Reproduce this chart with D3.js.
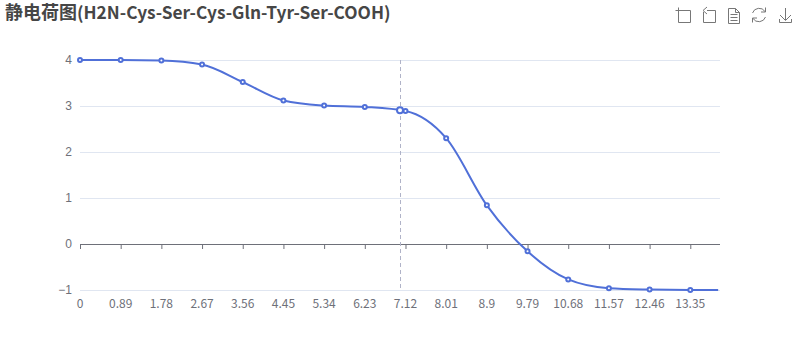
<!DOCTYPE html>
<html>
<head>
<meta charset="utf-8">
<script src="https://cdn.jsdelivr.net/npm/d3@7"></script>
<style>
    html, body { margin: 0; padding: 0; background: #fff; }
    svg { display: block; font-family: "Noto Sans CJK SC", "Noto Sans", sans-serif; }
</style>
</head>
<body>
<script>
const titleCjk = "静电荷图";
const titleLatin = "(H2N-Cys-Ser-Cys-Gln-Tyr-Ser-COOH)";
const xValues = [0, 0.89, 1.78, 2.67, 3.56, 4.45, 5.34, 6.23, 7.12, 8.01, 8.9, 9.79, 10.68, 11.57, 12.46, 13.35, 13.96];
const charges = [4, 4, 3.99, 3.9, 3.52, 3.12, 3.01, 2.98, 2.89, 2.3, 0.84, -0.16, -0.77, -0.96, -0.99, -1, -1];
const xTicks = [0, 0.89, 1.78, 2.67, 3.56, 4.45, 5.34, 6.23, 7.12, 8.01, 8.9, 9.79, 10.68, 11.57, 12.46, 13.35];
const yTicks = [-1, 0, 1, 2, 3, 4];
const hoverX = 7;
const hoverY = 2.91;

const width = 800, height = 360;
const marginTop = 60, marginRight = 80, marginBottom = 70, marginLeft = 80;
const color = "#5070d8", labelColor = "#6e7079", gridColor = "#e0e6f1";

const x = d3.scaleLinear([0, 14], [marginLeft, width - marginRight]);
const y = d3.scaleLinear([-1, 4], [height - marginBottom, marginTop]);

const svg = d3.select("body").append("svg")
    .attr("width", width)
    .attr("height", height)
    .attr("viewBox", [0, 0, width, height]);

const title = svg.append("text")
    .attr("x", 5)
    .attr("y", 19)
    .attr("fill", "#464646")
    .style("font-size", "18px")
    .style("font-weight", "bold");
title.append("tspan").text(titleCjk);
title.append("tspan").style("font-size", "17.3px").text(titleLatin);

// gridlines + y labels
svg.append("g")
    .attr("transform", `translate(${marginLeft},0)`)
    .call(d3.axisLeft(y).tickValues(yTicks).tickSize(0).tickPadding(8).tickFormat(d3.format("d")))
    .call(g => g.select(".domain").remove())
    .call(g => g.selectAll(".tick text")
        .attr("fill", labelColor)
        .style("font-size", "12px")
        .style("font-family", "inherit"))
    .call(g => g.selectAll(".tick line")
        .attr("x2", width - marginLeft - marginRight)
        .attr("stroke", d => d === 0 ? "none" : gridColor));

// x axis sits on y = 0, labels stay at the bottom
const xAxis = svg.append("g")
    .attr("transform", `translate(0,${y(0)})`)
    .call(d3.axisBottom(x).tickValues(xTicks).tickSize(5).tickFormat(d => d))
    .call(g => g.select(".domain")
        .attr("stroke", labelColor)
        .attr("d", `M${x.range()[0]},0.5H${x.range()[1]}`))
    .call(g => g.selectAll(".tick line").attr("stroke", labelColor));

xAxis.selectAll(".tick text").remove();

svg.append("g")
    .selectAll("text")
    .data(xTicks)
    .join("text")
    .attr("x", d => x(d))
    .attr("y", y(-1) + 18)
    .attr("text-anchor", "middle")
    .attr("fill", labelColor)
    .style("font-size", "12px")
    .text(d => d);

// crosshair
svg.append("line")
    .attr("x1", x(hoverX) + 0.5).attr("x2", x(hoverX) + 0.5)
    .attr("y1", marginTop).attr("y2", y(-1))
    .attr("stroke", "#b0b3c8")
    .attr("stroke-dasharray", "4,3");

const line = d3.line()
    .x((d, i) => x(xValues[i]))
    .y(d => y(d))
    .curve(d3.curveMonotoneX);

svg.append("path")
    .attr("d", line(charges))
    .attr("fill", "none")
    .attr("stroke", color)
    .attr("stroke-width", 2);

svg.append("g")
    .selectAll("circle")
    .data(charges.slice(0, -1))
    .join("circle")
    .attr("cx", (d, i) => x(xValues[i]))
    .attr("cy", d => y(d))
    .attr("r", 2)
    .attr("fill", "#fff")
    .attr("stroke", color)
    .attr("stroke-width", 2);

svg.append("circle")
    .attr("cx", x(hoverX))
    .attr("cy", y(hoverY))
    .attr("r", 3)
    .attr("fill", "#fff")
    .attr("stroke", color)
    .attr("stroke-width", 2);

// toolbox icons
const icons = [
    "M675.5,10.5H690.5V22.5H678.5V7.5",
    "M707,10.5H715.5V22.5H703.5V12M707,7L703,10.5L707,14",
    "M728.5,8.5H735.5L739.5,12.5V23.5H728.5ZM735.5,8.5V12.5H739.5M730.5,14.5H737.5M730.5,17.5H737.5M730.5,20.5H737.5",
    "M752.5,13A7,7 0 0 1 765,11.5M765.5,17A7,7 0 0 1 753,18.5M765.5,7.5V12H761M752.5,22.5V18H757",
    "M785.5,8V20M780,15L785.5,20.5L791,15M779.5,19V22.5H791.5V19"
];
svg.append("g")
    .selectAll("path")
    .data(icons)
    .join("path")
    .attr("d", d => d)
    .attr("fill", "none")
    .attr("stroke", "#777")
    .attr("stroke-width", 1);
</script>
</body>
</html>
